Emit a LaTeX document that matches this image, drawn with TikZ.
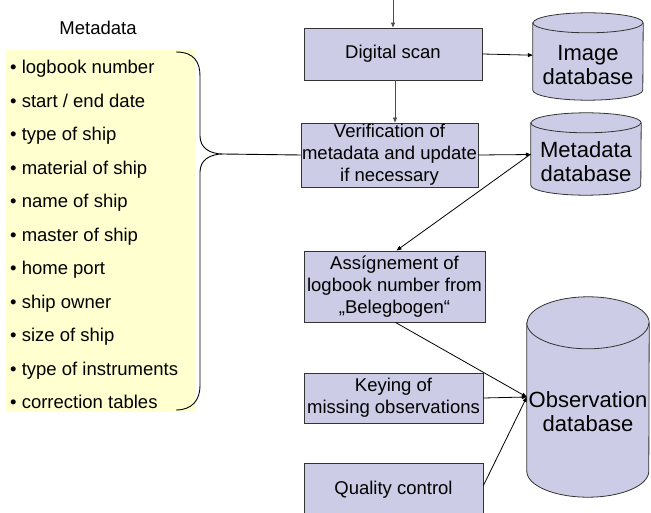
\documentclass[tikz,border=0pt]{standalone}
\usepackage{fontspec}
\setmainfont{Liberation Sans}
\usetikzlibrary{positioning,arrows.meta}

\definecolor{boxfill}{RGB}{204,204,230}
\definecolor{metafill}{RGB}{255,255,208}

% cylinder round a named node: #1 node, #2 half width, #3 ellipse radius
\newcommand{\dbdraw}[3]{%
  \filldraw[dbline] ([yshift=-#3pt]#1.north west) -- ([yshift=#3pt]#1.south west)
    arc[start angle=180, end angle=360, x radius=#2pt, y radius=#3pt]
    -- ([yshift=-#3pt]#1.north east)
    arc[start angle=0, end angle=180, x radius=#2pt, y radius=#3pt] -- cycle;
  \draw[dbline] ([yshift=-#3pt]#1.north west)
    arc[start angle=180, end angle=360, x radius=#2pt, y radius=#3pt];
}

\begin{document}
\begin{tikzpicture}[
  x=1pt, y=-1pt,
  font=\fontsize{18.5}{22}\selectfont,
  box/.style={draw=black!80, fill=boxfill, line width=0.9pt, align=center, inner sep=0pt},
  db/.style={inner sep=0pt},
  dbline/.style={draw=black!80, fill=boxfill, line width=0.8pt},
  dbtext/.style={align=center, font=\fontsize{22}{24}\selectfont},
  item/.style={anchor=west, inner sep=0pt, text height=13.5pt, text depth=0pt},
  arr/.style={-{Triangle[length=5pt,width=4pt]}, line width=0.8pt},
  brace/.style={line width=0.9pt}
]
\useasboundingbox (0,0) rectangle (651,513);

% Metadata list
\node (metatitle) at (98,28) {Metadata};
\node[fill=metafill, minimum width=190pt, minimum height=362pt, inner sep=0pt] (metabg) at (101,231) {};
\node[item] (logbook) at (10,67) {• logbook number};
\node[item] (dates) at ([yshift=-33.5pt]logbook.west) {• start / end date};
\node[item] (shiptype) at ([yshift=-33.5pt]dates.west) {• type of ship};
\node[item] (material) at ([yshift=-33.5pt]shiptype.west) {• material of ship};
\node[item] (shipname) at ([yshift=-33.5pt]material.west) {• name of ship};
\node[item] (master) at ([yshift=-33.5pt]shipname.west) {• master of ship};
\node[item] (homeport) at ([yshift=-33.5pt]master.west) {• home port};
\node[item] (owner) at ([yshift=-33.5pt]homeport.west) {• ship owner};
\node[item] (shipsize) at ([yshift=-33.5pt]owner.west) {• size of ship};
\node[item] (instruments) at ([yshift=-33.5pt]shipsize.west) {• type of instruments};
\node[item] (tables) at ([yshift=-33.5pt]instruments.west) {• correction tables};

% brace
\draw[brace] (176,52) .. controls (194,52) and (200,62) .. (200,76) -- (200,136)
  .. controls (200,148) and (210,154) .. (223,154) coordinate (bracetip)
  .. controls (210,154) and (200,160) .. (200,172) -- (200,386)
  .. controls (200,400) and (192,410) .. (176,410);

% Process boxes
\node[box, minimum width=178pt, minimum height=52pt] (scan) at (393,54) {Digital scan};
\node[box, minimum width=177pt, minimum height=64pt] (verify) at (389.5,155) {Verification of\\metadata and update\\if necessary};
\node[box, minimum width=181pt, minimum height=71pt] (assign) at (394.5,286.5) {Assígnement of\\logbook number from\\„Belegbogen“};
\node[box, minimum width=179pt, minimum height=50pt] (keying) at (393.5,398) {Keying of\\missing observations};
\node[box, minimum width=179pt, minimum height=52pt, anchor=north] (quality) at (393.5,463) {Quality control};

% Databases
\node[db, minimum width=110pt, minimum height=87pt] (imagedb) at (588,56.5) {};
\dbdraw{imagedb}{55}{10}
\node[dbtext] at ([yshift=-9pt]imagedb.center) {Image\\database};
\node[db, minimum width=110pt, minimum height=82pt] (metadb) at (586,154) {};
\dbdraw{metadb}{55}{10}
\node[dbtext] at ([yshift=-8pt]metadb.center) {Metadata\\database};
\node[db, minimum width=122pt, minimum height=200pt] (obsdb) at (588,397) {};
\dbdraw{obsdb}{61}{26}
\node[dbtext] at ([yshift=-15pt]obsdb.center) {Observation\\database};

% Connectors
\coordinate (entry) at (393,0);
\draw[arr, draw=black!70] (entry) -- (scan.north);
\draw[arr, draw=black!70] ([xshift=2pt]scan.south) -- ([xshift=2pt]scan.south |- verify.north);
\draw[arr] (scan.east) -- (imagedb);
\draw[arr] (verify.east) -- (metadb);
\draw[brace] (bracetip) -- (verify.west);
\draw[arr] (metadb.west) -- ([xshift=2pt]assign.north);
\draw[arr] ([xshift=1pt]assign.south) -- (obsdb.west);
\draw[arr] (keying.east) -- (obsdb.west);
\draw[arr] ([yshift=4pt]quality.east) -- (obsdb.west);

\end{tikzpicture}
\end{document}
